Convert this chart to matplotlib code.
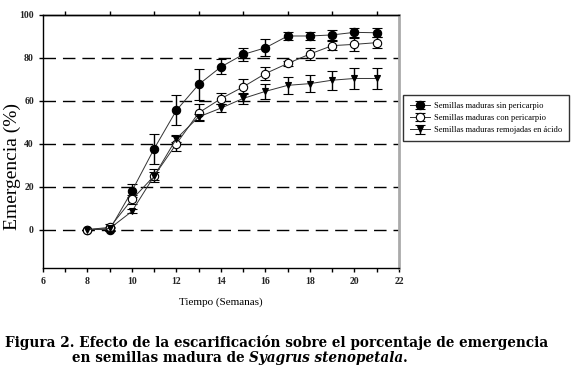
import numpy as np
import matplotlib.pyplot as plt

semanas = [8, 9, 10, 11, 12, 13, 14, 15, 16, 17, 18, 19, 20, 21]

sin_peri = [0, 0, 18, 37.7, 55.6, 67.6, 75.8, 81.6, 84.7, 90.2, 90.2, 90.7, 91.9, 91.7]
sin_peri_err = [0, 0.5, 3, 7, 7, 7, 3.5, 3, 4, 2, 2, 2.5, 2, 2]

con_peri = [0, 1, 14, 25, 40, 54.4, 61, 66.5, 72.7, 77.4, 81.8, 85.7, 86.3, 87.1]
con_peri_err = [0, 1.5, 2, 3, 3.5, 4, 2.5, 3.5, 3, 1, 3, 2, 3, 2.5]

acido = [0, 0.5, 8.5, 25, 42.4, 52.5, 56.6, 61.1, 64.4, 67.2, 68, 69.6, 70.4, 70.4]
acido_err = [0, 0.5, 1, 2, 1.5, 1.5, 2, 2.5, 3.5, 4, 4, 4.5, 5, 5]

etiquetas = ["Semillas maduras sin pericarpio",
             "Semillas maduras con pericarpio",
             "Semillas maduras remojadas en ácido"]

serif = "Liberation Serif"

fig = plt.figure(figsize=(5.74, 3.74), dpi=100)
ax = fig.add_axes([0.0749, 0.283, 0.6201, 0.677])

for y in [0, 20, 40, 60, 80]:
    ax.axhline(y, color="black", lw=1, dashes=(9, 5), zorder=0)

common = dict(color="#333333", lw=0.7, capsize=3.5, elinewidth=1,
              ecolor="black", markeredgecolor="black",
              markeredgewidth=0.8)
ax.errorbar(semanas, sin_peri, yerr=sin_peri_err, marker="o", markersize=6,
            markerfacecolor="black", label=etiquetas[0], zorder=3, **common)
ax.errorbar(semanas, con_peri, yerr=con_peri_err, marker="o", markersize=6,
            markerfacecolor="white", label=etiquetas[1], zorder=3, **common)
ax.errorbar(semanas, acido, yerr=acido_err, marker="v", markersize=5,
            markerfacecolor="black", label=etiquetas[2], zorder=3, **common)

ax.set_xlim(6, 22)
ax.set_ylim(-18, 100)
ax.set_xticks(range(6, 23, 2))
ax.set_xticks(range(6, 23, 1), minor=True)
ax.set_yticks(range(0, 101, 20))
ax.tick_params(axis="both", which="both", direction="out", length=3,
               width=1, labelsize=7, labelcolor="#222222")
for lbl in ax.get_xticklabels() + ax.get_yticklabels():
    lbl.set_family(serif)
    lbl.set_weight("bold")

sec = ax.secondary_xaxis("top")
sec.set_xticks(range(7, 22, 2))
sec.tick_params(direction="out", length=3, width=1, labeltop=False)
sec.spines["top"].set_linewidth(1)

for s in ["left", "bottom", "top"]:
    ax.spines[s].set_linewidth(1)
ax.spines["right"].set_color("#aaaaaa")
ax.spines["right"].set_linewidth(2)

ax.set_ylabel("Emergencia (%)", fontsize=14, family=serif)
ax.yaxis.set_label_coords(-0.062, 0.40)
ax.set_xlabel("Tiempo (Semanas)", fontsize=8, family=serif, labelpad=8)

leg = fig.legend(loc="upper left", bbox_to_anchor=(0.702, 0.746),
                 prop={"family": serif, "size": 6.1},
                 frameon=True, fancybox=False, edgecolor="black",
                 handlelength=2.4, borderpad=0.8, labelspacing=0.5,
                 handletextpad=0.5, borderaxespad=0)
leg.get_frame().set_linewidth(1)

cap = dict(fontsize=9.8, family="DejaVu Serif", weight="bold", va="baseline")
fig.text(0.009, 0.072, "Figura 2. Efecto de la escarificación sobre el porcentaje de emergencia", **cap)
t1 = fig.text(0.125, 0.032, "en semillas madura de ", **cap)
t2 = fig.text(0, 0, "Syagrus stenopetala", style="italic", **cap)
t3 = fig.text(0, 0, ".", **cap)
fig.canvas.draw()
r = fig.canvas.get_renderer()
x = fig.transFigure.inverted().transform(t1.get_window_extent(r))[1, 0]
t2.set_position((x, 0.032))
fig.canvas.draw()
x = fig.transFigure.inverted().transform(t2.get_window_extent(r))[1, 0]
t3.set_position((x, 0.032))

fig.savefig("out.png", dpi=100, facecolor="white")
